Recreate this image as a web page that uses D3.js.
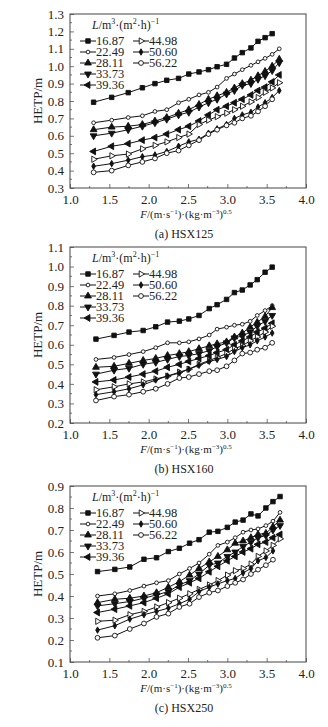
<!DOCTYPE html>
<html>
<head>
<meta charset="utf-8">
<script src="https://cdn.jsdelivr.net/npm/d3@7"></script>
<style>
body { margin: 0; background: #fff; }
svg text { font-family: "Liberation Serif", "Times New Roman", serif; fill: #222; }
</style>
</head>
<body>
<svg id="chart" width="328" height="727"></svg>
<script>
// liquid loads L, m3/(m2 h)
var loads = ["16.87", "22.49", "28.11", "33.73", "39.36", "44.98", "50.60", "56.22"];

// F factor values per panel
var xA = [1.30, 1.53, 1.74, 1.92, 2.08, 2.23, 2.38, 2.51, 2.64, 2.76, 2.87, 2.99, 3.09, 3.19, 3.30, 3.39, 3.48, 3.57, 3.66];
var xB = [1.33, 1.56, 1.75, 1.93, 2.09, 2.24, 2.39, 2.51, 2.64, 2.77, 2.87, 2.99, 3.09, 3.19, 3.29, 3.38, 3.48, 3.57];
var xC = [1.35, 1.57, 1.76, 1.94, 2.10, 2.25, 2.39, 2.52, 2.64, 2.77, 2.88, 3.00, 3.10, 3.20, 3.30, 3.39, 3.49, 3.58, 3.67];

// HETP (m), one row per load, panel (a) HSX125
var hetpA = [
  [0.793, 0.821, 0.848, 0.876, 0.900, 0.919, 0.930, 0.955, 0.967, 0.980, 0.997, 1.011, 1.047, 1.078, 1.105, 1.143, 1.164, 1.187],
  [0.675, 0.690, 0.705, 0.715, 0.740, 0.750, 0.790, 0.810, 0.835, 0.850, 0.880, 0.930, 0.955, 0.980, 1.005, 1.025, 1.045, 1.068, 1.100],
  [0.635, 0.650, 0.655, 0.665, 0.685, 0.705, 0.730, 0.750, 0.780, 0.810, 0.830, 0.850, 0.875, 0.900, 0.920, 0.945, 0.970, 1.000, 1.040],
  [0.600, 0.615, 0.635, 0.655, 0.675, 0.695, 0.720, 0.735, 0.765, 0.790, 0.810, 0.840, 0.860, 0.890, 0.900, 0.925, 0.945, 0.975, 1.020],
  [0.510, 0.540, 0.555, 0.575, 0.590, 0.610, 0.635, 0.655, 0.685, 0.720, 0.750, 0.770, 0.790, 0.810, 0.835, 0.860, 0.880, 0.910, 0.950],
  [0.465, 0.485, 0.495, 0.525, 0.545, 0.565, 0.590, 0.610, 0.665, 0.690, 0.710, 0.730, 0.750, 0.770, 0.795, 0.820, 0.850, 0.875, 0.905],
  [0.425, 0.440, 0.460, 0.480, 0.490, 0.510, 0.540, 0.565, 0.580, 0.615, 0.640, 0.665, 0.700, 0.720, 0.735, 0.765, 0.790, 0.820, 0.860],
  [0.390, 0.400, 0.430, 0.450, 0.470, 0.500, 0.515, 0.545, 0.575, 0.610, 0.635, 0.660, 0.675, 0.700, 0.715, 0.740, 0.770, 0.810]
];

// panel (b) HSX160
var hetpB = [
  [0.629, 0.648, 0.665, 0.673, 0.692, 0.716, 0.721, 0.732, 0.750, 0.785, 0.805, 0.832, 0.867, 0.880, 0.906, 0.933, 0.971, 0.997],
  [0.525, 0.535, 0.550, 0.565, 0.585, 0.610, 0.610, 0.615, 0.630, 0.650, 0.680, 0.690, 0.700, 0.705, 0.720, 0.750, 0.775, 0.800],
  [0.485, 0.490, 0.505, 0.520, 0.530, 0.545, 0.555, 0.565, 0.580, 0.595, 0.605, 0.615, 0.640, 0.660, 0.690, 0.715, 0.745, 0.790],
  [0.450, 0.470, 0.480, 0.500, 0.510, 0.525, 0.540, 0.545, 0.555, 0.570, 0.590, 0.610, 0.635, 0.645, 0.665, 0.695, 0.720, 0.750],
  [0.410, 0.420, 0.435, 0.450, 0.465, 0.485, 0.500, 0.515, 0.530, 0.545, 0.560, 0.575, 0.600, 0.620, 0.640, 0.665, 0.685, 0.710],
  [0.370, 0.385, 0.400, 0.410, 0.425, 0.440, 0.460, 0.475, 0.500, 0.520, 0.535, 0.555, 0.580, 0.595, 0.620, 0.640, 0.665, 0.695],
  [0.345, 0.360, 0.375, 0.395, 0.420, 0.440, 0.455, 0.475, 0.495, 0.515, 0.525, 0.540, 0.565, 0.585, 0.600, 0.620, 0.640, 0.660],
  [0.315, 0.335, 0.345, 0.360, 0.375, 0.400, 0.430, 0.435, 0.450, 0.465, 0.470, 0.490, 0.520, 0.555, 0.560, 0.575, 0.585, 0.610]
];

// panel (c) HSX250
var hetpC = [
  [0.511, 0.521, 0.532, 0.567, 0.574, 0.602, 0.617, 0.640, 0.656, 0.690, 0.694, 0.712, 0.736, 0.745, 0.773, 0.764, 0.800, 0.829, 0.852],
  [0.400, 0.410, 0.425, 0.445, 0.460, 0.470, 0.500, 0.525, 0.550, 0.590, 0.630, 0.645, 0.665, 0.690, 0.700, 0.705, 0.720, 0.740, 0.780],
  [0.370, 0.385, 0.390, 0.400, 0.415, 0.440, 0.465, 0.495, 0.525, 0.555, 0.580, 0.610, 0.640, 0.650, 0.665, 0.680, 0.685, 0.715, 0.745],
  [0.355, 0.365, 0.375, 0.390, 0.405, 0.420, 0.450, 0.470, 0.500, 0.540, 0.550, 0.580, 0.600, 0.625, 0.645, 0.665, 0.675, 0.700, 0.720],
  [0.325, 0.340, 0.355, 0.370, 0.390, 0.410, 0.440, 0.460, 0.480, 0.510, 0.535, 0.560, 0.580, 0.600, 0.615, 0.635, 0.645, 0.665, 0.680],
  [0.285, 0.290, 0.315, 0.330, 0.350, 0.370, 0.390, 0.410, 0.430, 0.450, 0.470, 0.495, 0.515, 0.525, 0.545, 0.580, 0.605, 0.630, 0.660],
  [0.245, 0.265, 0.295, 0.315, 0.330, 0.345, 0.365, 0.385, 0.420, 0.440, 0.455, 0.470, 0.480, 0.505, 0.525, 0.560, 0.575, 0.605],
  [0.210, 0.220, 0.250, 0.275, 0.305, 0.320, 0.350, 0.365, 0.395, 0.415, 0.425, 0.445, 0.460, 0.475, 0.500, 0.520, 0.540, 0.565]
];

var panels = [
  {x: xA, y: hetpA, ymin: 0.3, ymax: 1.3, top: 14, bottom: 188, cap: "(a) HSX125"},
  {x: xB, y: hetpB, ymin: 0.2, ymax: 1.1, top: 247, bottom: 423, cap: "(b) HSX160"},
  {x: xC, y: hetpC, ymin: 0.1, ymax: 0.9, top: 486, bottom: 662, cap: "(c) HSX250"}
];

// marker per load: symbol, rotation, filled, size
var marks = [
  {s: d3.symbolSquare, r: 0, fill: true, size: 20},
  {s: d3.symbolCircle, r: 0, fill: false, size: 11},
  {s: d3.symbolTriangle, r: 0, fill: true, size: 20},
  {s: d3.symbolTriangle, r: 180, fill: true, size: 20},
  {s: d3.symbolTriangle, r: -90, fill: true, size: 20},
  {s: d3.symbolTriangle, r: 90, fill: false, size: 17},
  {s: d3.symbolDiamond, r: 0, fill: true, size: 12},
  {s: d3.symbolCircle, r: 0, fill: false, size: 18}
];

var left = 70, right = 306;
var ink = "#111";
var svg = d3.select("#chart");

function drawPanel(p) {
  var g = svg.append("g");
  var xs = d3.scaleLinear().domain([1, 4]).range([left, right]);
  var ys = d3.scaleLinear().domain([p.ymin, p.ymax]).range([p.bottom, p.top]);

  // minor ticks
  var xMinor = d3.range(1.25, 4, 0.5);
  var yMinor = d3.range(p.ymin + 0.05, p.ymax, 0.1);
  g.selectAll(".xm").data(xMinor).enter().append("line")
    .attr("x1", d => xs(d)).attr("x2", d => xs(d))
    .attr("y1", p.bottom).attr("y2", p.bottom - 2)
    .attr("stroke", "#555").attr("stroke-width", 0.8);
  g.selectAll(".ym").data(yMinor).enter().append("line")
    .attr("x1", left).attr("x2", left + 2)
    .attr("y1", d => ys(d)).attr("y2", d => ys(d))
    .attr("stroke", "#555").attr("stroke-width", 0.8);

  var xAxis = d3.axisBottom(xs).tickValues(d3.range(1, 4.01, 0.5))
    .tickFormat(d3.format(".1f")).tickSizeInner(-4).tickSizeOuter(0).tickPadding(7);
  var yTicks = d3.range(Math.round(p.ymin * 10), Math.round(p.ymax * 10) + 1).map(v => v / 10);
  var yAxis = d3.axisLeft(ys).tickValues(yTicks)
    .tickFormat(d3.format(".1f")).tickSizeInner(-4).tickSizeOuter(0).tickPadding(6);

  var gx = g.append("g").attr("transform", "translate(0," + p.bottom + ")").call(xAxis);
  var gy = g.append("g").attr("transform", "translate(" + left + ",0)").call(yAxis);
  [gx, gy].forEach(function(a) {
    a.attr("font-family", null);
    a.select(".domain").remove();
    a.selectAll("line").attr("stroke", "#555").attr("stroke-width", 0.8);
    a.selectAll("text").style("font-size", "13px").attr("fill", "#222");
  });

  // frame
  g.append("rect").attr("x", left).attr("y", p.top)
    .attr("width", right - left).attr("height", p.bottom - p.top)
    .attr("fill", "none").attr("stroke", "#444").attr("stroke-width", 1);

  // series
  var line = d3.line().x(d => xs(d[0])).y(d => ys(d[1]));
  p.y.forEach(function(vals, i) {
    var pts = vals.map((v, j) => [p.x[j], v]);
    g.append("path").datum(pts).attr("d", line)
      .attr("fill", "none").attr("stroke", ink).attr("stroke-width", 1);
    var m = marks[i];
    g.selectAll(".m" + i).data(pts).enter().append("path")
      .attr("d", d3.symbol().type(m.s).size(m.size))
      .attr("transform", d => "translate(" + xs(d[0]) + "," + ys(d[1]) + ") rotate(" + m.r + ")")
      .attr("fill", m.fill ? ink : "#fff").attr("stroke", ink).attr("stroke-width", 0.9);
  });

  // legend
  var lt = g.append("text").attr("x", 92).attr("y", p.top + 15).style("font-size", "12px");
  lt.append("tspan").attr("font-style", "italic").text("L");
  lt.append("tspan").text("/m");
  lt.append("tspan").attr("dy", -5).style("font-size", "8px").text("3");
  lt.append("tspan").attr("dy", 5).text("\u00b7(m");
  lt.append("tspan").attr("dy", -5).style("font-size", "8px").text("2");
  lt.append("tspan").attr("dy", 5).text("\u00b7h)");
  lt.append("tspan").attr("dy", -5).style("font-size", "8px").text("\u22121");

  loads.forEach(function(l, i) {
    var col = i < 5 ? 0 : 1;
    var row = i < 5 ? i : i - 5;
    var lx = col === 0 ? 80 : 133;
    var ly = p.top + 27 + row * 11;
    g.append("line").attr("x1", lx).attr("x2", lx + 16).attr("y1", ly).attr("y2", ly)
      .attr("stroke", ink).attr("stroke-width", 1);
    var m = marks[i];
    g.append("path").attr("d", d3.symbol().type(m.s).size(m.size))
      .attr("transform", "translate(" + (lx + 8) + "," + ly + ") rotate(" + m.r + ")")
      .attr("fill", m.fill ? ink : "#fff").attr("stroke", ink).attr("stroke-width", 0.9);
    g.append("text").attr("x", lx + 16).attr("y", ly + 4).style("font-size", "12.5px").text(l);
  });

  // y label
  g.append("text").attr("transform", "translate(42," + ((p.top + p.bottom) / 2) + ") rotate(-90)")
    .attr("text-anchor", "middle").style("font-size", "13px").text("HETP/m");

  // x label
  var xl = g.append("text").attr("x", 186).attr("y", p.bottom + 30)
    .attr("text-anchor", "middle").style("font-size", "11px");
  xl.append("tspan").attr("font-style", "italic").text("F");
  xl.append("tspan").text("/(m\u00b7s");
  xl.append("tspan").attr("dy", -4).style("font-size", "7px").text("\u22121");
  xl.append("tspan").attr("dy", 4).text(")\u00b7(kg\u00b7m");
  xl.append("tspan").attr("dy", -4).style("font-size", "7px").text("\u22123");
  xl.append("tspan").attr("dy", 4).text(")");
  xl.append("tspan").attr("dy", -4).style("font-size", "7px").text("0.5");

  // caption
  g.append("text").attr("x", 184).attr("y", p.bottom + 50)
    .attr("text-anchor", "middle").style("font-size", "12px").text(p.cap);
}

panels.forEach(drawPanel);
</script>
</body>
</html>
